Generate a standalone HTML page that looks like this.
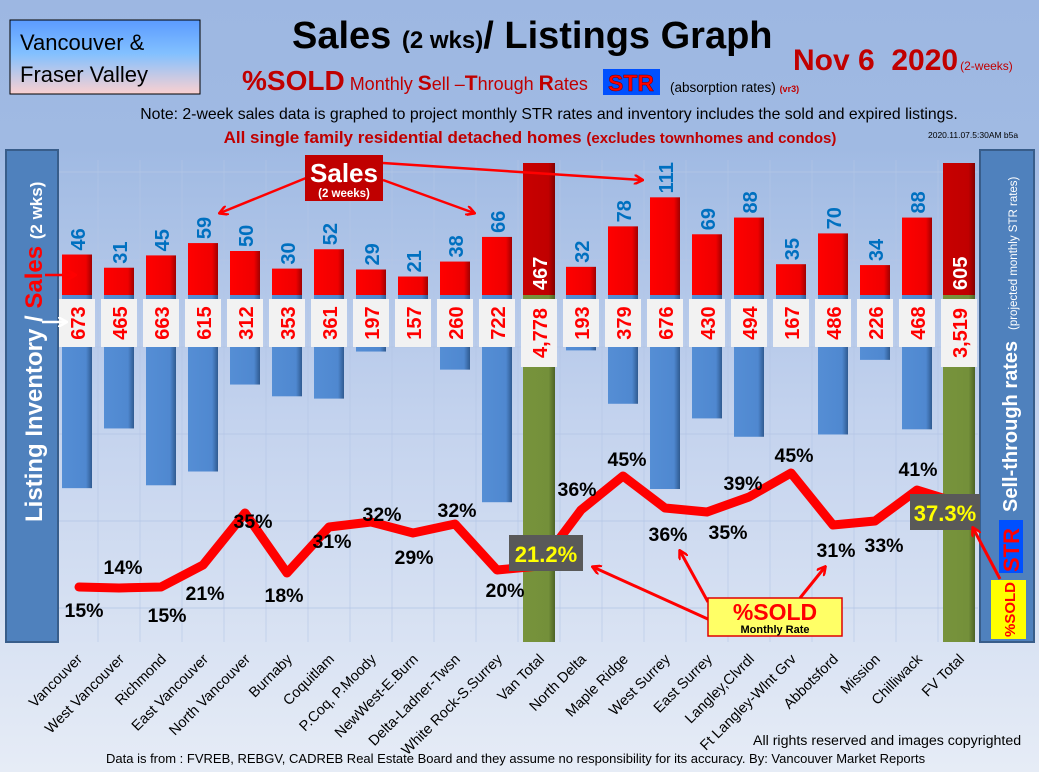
<!DOCTYPE html>
<html><head><meta charset="utf-8"><style>
html,body{margin:0;padding:0;width:1039px;height:772px;overflow:hidden}
svg{display:block;font-family:"Liberation Sans",sans-serif}
</style></head><body>
<svg width="1039" height="772" viewBox="0 0 1039 772" xmlns="http://www.w3.org/2000/svg">
<defs>
<linearGradient id="bg" x1="0" y1="0" x2="0" y2="1">
<stop offset="0" stop-color="#9db7e2"/><stop offset="0.19" stop-color="#a0bae3"/><stop offset="0.55" stop-color="#c4d3ee"/><stop offset="1" stop-color="#e6ecf6"/></linearGradient>
<linearGradient id="tl" x1="0" y1="0" x2="0" y2="1">
<stop offset="0" stop-color="#5b9bff"/><stop offset="0.45" stop-color="#82c0ff"/><stop offset="1" stop-color="#fbd0d0"/></linearGradient>
<linearGradient id="red" x1="0" y1="0" x2="1" y2="0"><stop offset="0" stop-color="#ff0000"/><stop offset="0.8" stop-color="#f00000"/><stop offset="1" stop-color="#a00000"/></linearGradient>
<linearGradient id="blue" x1="0" y1="0" x2="1" y2="0"><stop offset="0" stop-color="#558ed5"/><stop offset="0.8" stop-color="#4f88d0"/><stop offset="1" stop-color="#2f5a90"/></linearGradient>
<linearGradient id="grn" x1="0" y1="0" x2="1" y2="0"><stop offset="0" stop-color="#77933c"/><stop offset="0.8" stop-color="#74903a"/><stop offset="1" stop-color="#4d6226"/></linearGradient>
<linearGradient id="dred" x1="0" y1="0" x2="1" y2="0"><stop offset="0" stop-color="#c80000"/><stop offset="0.8" stop-color="#c00000"/><stop offset="1" stop-color="#800000"/></linearGradient>
<marker id="ah" markerWidth="10" markerHeight="10" refX="8" refY="5" orient="auto" markerUnits="userSpaceOnUse"><path d="M0,0 L9,5 L0,10" fill="none" stroke="#ff0000" stroke-width="2.5"/></marker>
<marker id="ahw" markerWidth="10" markerHeight="10" refX="8" refY="5" orient="auto" markerUnits="userSpaceOnUse"><path d="M0,0 L9,5 L0,10" fill="none" stroke="#fff" stroke-width="2.5"/></marker>
</defs>
<rect width="1039" height="772" fill="url(#bg)"/>
<g stroke="#b4c6e6" stroke-width="1" opacity="0.8">
<line x1="58" y1="172" x2="978" y2="172"/><line x1="58" y1="260" x2="978" y2="260"/><line x1="58" y1="347" x2="978" y2="347"/><line x1="58" y1="434" x2="978" y2="434"/><line x1="58" y1="521" x2="978" y2="521"/><line x1="58" y1="608" x2="978" y2="608"/>
</g>
<g id="vgrid" stroke="#b4c6e6" stroke-width="1" opacity="0.6"></g>

<rect x="10" y="20" width="190" height="74" fill="url(#tl)" stroke="#000" stroke-width="1"/>
<text x="20" y="50" font-size="22" fill="#000">Vancouver &amp;</text>
<text x="20" y="82" font-size="22" fill="#000">Fraser Valley</text>
<text x="292" y="48" font-size="38" font-weight="bold" fill="#000">Sales <tspan font-size="24">(2 wks)</tspan>/ Listings Graph</text>
<text x="793" y="70" font-size="30" font-weight="bold" fill="#c00000" xml:space="preserve">Nov 6  2020<tspan font-size="12" font-weight="normal" dx="2">(2-weeks)</tspan></text>
<text x="242" y="90" font-size="28" font-weight="bold" fill="#c00000">%SOLD<tspan font-size="18" font-weight="normal"> Monthly <tspan font-weight="bold" font-size="21">S</tspan>ell –<tspan font-weight="bold" font-size="21">T</tspan>hrough <tspan font-weight="bold" font-size="21">R</tspan>ates</tspan></text>
<rect x="603" y="69" width="57" height="26" fill="#0050ff"/>
<text x="631" y="91" font-size="23" font-weight="bold" fill="#ff0000" text-anchor="middle" stroke="#600" stroke-width="0.5">STR</text>
<text x="670" y="92" font-size="13.5" fill="#000">(absorption rates) <tspan fill="#c00000" font-weight="bold" font-size="9">(vr3)</tspan></text>
<text x="549" y="119" font-size="15.8" fill="#000" text-anchor="middle">Note: 2-week sales data is graphed to project monthly STR rates and inventory includes the sold and expired listings.</text>
<text x="530" y="143" font-size="17" font-weight="bold" fill="#c00000" text-anchor="middle">All single family residential detached homes <tspan font-size="15">(excludes townhomes and condos)</tspan></text>
<text x="928" y="138" font-size="8.5" fill="#000">2020.11.07.5:30AM b5a</text>

<rect x="6" y="150" width="52" height="492" fill="#4f81bd" stroke="#385d8a" stroke-width="2"/>
<text transform="translate(42,522) rotate(-90)" font-size="24" font-weight="bold" fill="#fff">Listing Inventory / <tspan fill="#ff0000">Sales</tspan> <tspan font-size="17">(2  wks)</tspan></text>
<rect x="980" y="150" width="54" height="492" fill="#4f81bd" stroke="#385d8a" stroke-width="2"/>
<text transform="translate(1017,512) rotate(-90)" font-size="20" font-weight="bold" fill="#fff">Sell-through rates</text>
<text transform="translate(1017,330) rotate(-90)" font-size="11.5" fill="#fff">(projected monthly STR rates)</text>
<rect x="999" y="520" width="24" height="53" fill="#0050ff"/>
<text transform="translate(1019,572) rotate(-90)" font-size="22" font-weight="bold" fill="#ff0000">STR</text>
<rect x="991" y="580" width="35" height="59" fill="#ffff00"/>
<text transform="translate(1015,637) rotate(-90)" font-size="15" font-weight="bold" fill="#ff0000">%SOLD</text>

<g id="bars"></g>

<polyline points="79,587 119,588 161,587 203,565 245,513 287,573 329,527 371,522 413,533 455,524 497,570 539,566 581,510 623,476 665,508 707,512 749,497 791,473 833,525 875,521 917,490 959,503" fill="none" stroke="#ff0000" stroke-width="9" stroke-linejoin="round" stroke-linecap="round"/>
<g font-size="19.5" font-weight="bold" fill="#000" text-anchor="middle">
<text x="84" y="617">15%</text><text x="123" y="574">14%</text><text x="167" y="622">15%</text><text x="205" y="600">21%</text><text x="253" y="528">35%</text><text x="284" y="602">18%</text><text x="332" y="548">31%</text><text x="382" y="521">32%</text><text x="414" y="564">29%</text><text x="457" y="517">32%</text><text x="505" y="597">20%</text>
<text x="577" y="496">36%</text><text x="627" y="466">45%</text><text x="668" y="541">36%</text><text x="728" y="539">35%</text><text x="743" y="490">39%</text><text x="794" y="462">45%</text><text x="836" y="557">31%</text><text x="884" y="552">33%</text><text x="918" y="476">41%</text>
</g>
<rect x="509" y="535" width="74" height="36" fill="#595959"/>
<text x="546" y="562" font-size="22" font-weight="bold" fill="#ffff00" text-anchor="middle">21.2%</text>
<rect x="910" y="494" width="70" height="36" fill="#595959"/>
<text x="945" y="521" font-size="22" font-weight="bold" fill="#ffff00" text-anchor="middle">37.3%</text>

<g stroke="#ff0000" stroke-width="3" fill="none">
<line x1="710" y1="620" x2="593" y2="567" marker-end="url(#ah)"/>
<line x1="708" y1="602" x2="680" y2="551" marker-end="url(#ah)"/>
<line x1="800" y1="598" x2="825" y2="567" marker-end="url(#ah)"/>
<line x1="1000" y1="579" x2="973" y2="528" marker-end="url(#ah)"/>
</g>
<rect x="708" y="598" width="134" height="38" fill="#ffff66" stroke="#e00000" stroke-width="1.5"/>
<text x="775" y="620" font-size="23" font-weight="bold" fill="#ff0000" text-anchor="middle">%SOLD</text>
<text x="775" y="633" font-size="11" font-weight="bold" fill="#000" text-anchor="middle">Monthly Rate</text>

<g stroke="#ff0000" stroke-width="2.5" fill="none">
<line x1="306" y1="178" x2="220" y2="213" marker-end="url(#ah)"/>
<line x1="383" y1="180" x2="474" y2="213" marker-end="url(#ah)"/>
<line x1="383" y1="163" x2="642" y2="180" marker-end="url(#ah)"/>
<line x1="45" y1="275" x2="75" y2="275" marker-end="url(#ah)"/>
</g>
<line x1="42" y1="322" x2="66" y2="322" stroke="#fff" stroke-width="2.5" marker-end="url(#ahw)"/>
<rect x="305" y="155" width="78" height="46" fill="#c00000"/>
<text x="344" y="182" font-size="26" font-weight="bold" fill="#fff" text-anchor="middle">Sales</text>
<text x="344" y="197" font-size="11.5" font-weight="bold" fill="#fff" text-anchor="middle">(2 weeks)</text>

<g id="cats" font-size="14.5" fill="#000"></g>

<text x="753" y="745" font-size="14.2" fill="#000">All rights reserved and  images copyrighted</text>
<text x="106" y="763" font-size="13" fill="#000">Data is from : FVREB, REBGV, CADREB Real Estate Board and they assume no responsibility for its accuracy. By: Vancouver Market Reports</text>
</svg>
<script>
var NS="http://www.w3.org/2000/svg";
function el(p,t,a,txt){var e=document.createElementNS(NS,t);for(var k in a)e.setAttribute(k,a[k]);if(txt!=null)e.textContent=txt;p.appendChild(e);return e;}
var names=["Vancouver","West Vancouver","Richmond","East Vancouver","North Vancouver","Burnaby","Coquitlam","P.Coq, P.Moody","NewWest-E.Burn","Delta-Ladner-Twsn","White Rock-S.Surrey","Van Total","North Delta","Maple Ridge","West Surrey","East Surrey","Langley,Clvrdl","Ft Langley-Wlnt Grv","Abbotsford","Mission","Chilliwack","FV Total"];
var sales=[46,31,45,59,50,30,52,29,21,38,66,467,32,78,111,69,88,35,70,34,88,605];
var inv=["673","465","663","615","312","353","361","197","157","260","722","4,778","193","379","676","430","494","167","486","226","468","3,519"];
var g=document.getElementById("bars"),c=document.getElementById("cats"),vg=document.getElementById("vgrid");
for(var i=0;i<22;i++){
 var cx=77+42*i;
 el(vg,"line",{x1:cx+21,y1:160,x2:cx+21,y2:642});
 var tot=(i==11||i==21);
 if(tot){
  el(g,"rect",{x:cx-16,y:163,width:32,height:132,fill:"url(#dred)"});
  el(g,"rect",{x:cx-16,y:295,width:32,height:347,fill:"url(#grn)"});
  el(g,"text",{transform:"translate("+(cx+8)+",290) rotate(-90)","font-size":"20","font-weight":"bold",fill:"#fff"},String(sales[i]));
  el(g,"rect",{x:cx-18,y:299,width:36,height:68,fill:"#f2f2f2"});
  el(g,"text",{transform:"translate("+(cx+8)+",333) rotate(-90)","font-size":"20","font-weight":"bold",fill:"#ff0000","text-anchor":"middle"},inv[i]);
 } else {
  var h=sales[i]*0.88, b=parseInt(inv[i].replace(",",""))*0.287;
  el(g,"rect",{x:cx-15,y:295,width:30,height:b,fill:"url(#blue)"});
  el(g,"rect",{x:cx-15,y:295-h,width:30,height:h,fill:"url(#red)"});
  el(g,"text",{transform:"translate("+(cx+8)+","+(295-h-4)+") rotate(-90)","font-size":"20","font-weight":"bold",fill:"#0070c0"},String(sales[i]));
  el(g,"rect",{x:cx-18,y:299,width:36,height:48,fill:"#f2f2f2"});
  el(g,"text",{transform:"translate("+(cx+8)+",323) rotate(-90)","font-size":"20","font-weight":"bold",fill:"#ff0000","text-anchor":"middle"},inv[i]);
 }
 el(c,"text",{transform:"translate("+(cx+6)+",660) rotate(-45)","text-anchor":"end"},names[i]);
}
</script>
</body></html>
